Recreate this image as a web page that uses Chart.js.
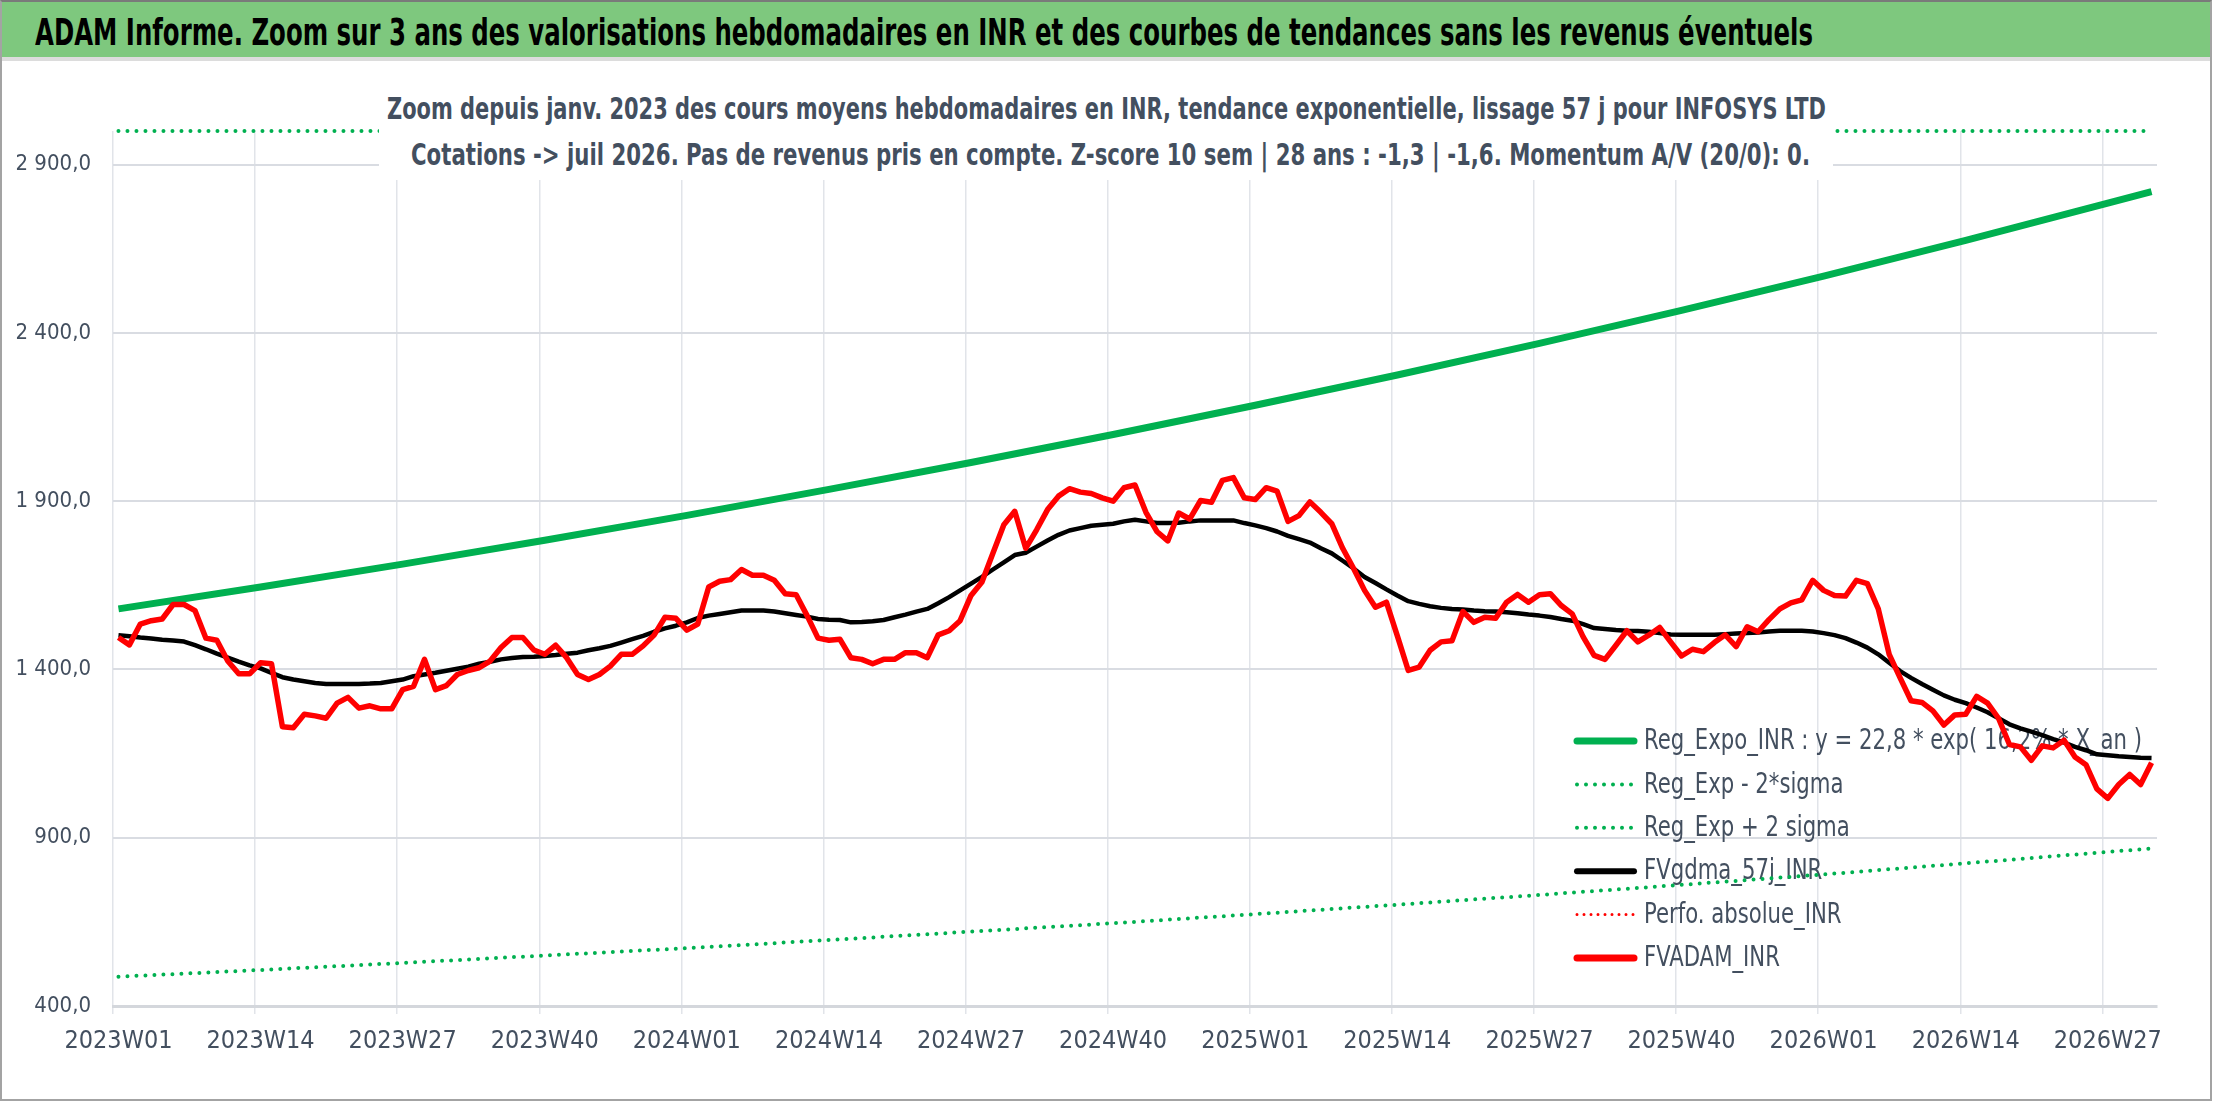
<!DOCTYPE html>
<html>
<head>
<meta charset="utf-8">
<script src="https://cdn.jsdelivr.net/npm/chart.js@4.4.1/dist/chart.umd.min.js"></script>
<style>
  body { margin: 0; background: #fff; }
  #frame { position: relative; width: 2216px; height: 1102px; overflow: hidden; background: #fff; }
  #box { position: absolute; left: 0; top: 0; width: 2208px; height: 1097px; border: 2px solid #a3a3a3; border-top-color: #7a7a7a; }
  #head { position: absolute; left: 2px; top: 2px; width: 2208px; height: 55px; background: #7ec87e; border-bottom: 4px solid #dcdcdc; }
  #title { position: absolute; left: 33px; top: 11px; font: bold 38px 'Liberation Sans Narrow', 'DejaVu Sans Condensed', sans-serif; color: #000; white-space: nowrap; line-height: 1; transform-origin: 0 0; }
  #sub { position: absolute; left: 379px; top: 84px; width: 1454px; height: 96px; background: #fff; }
  .sl { position: absolute; white-space: nowrap; font: bold 31px 'Liberation Sans Narrow', 'DejaVu Sans Condensed', sans-serif; color: #434f5f; line-height: 1; transform-origin: 0 0; }
  canvas { position: absolute; left: 0; top: 0; }
</style>
</head>
<body>
<div id="frame">
  <canvas id="myChart" width="2216" height="1102"></canvas>
  <div id="box"></div>
  <div id="head"><span id="title">ADAM Informe. Zoom sur 3 ans des valorisations hebdomadaires en INR et des courbes de tendances sans les revenus éventuels</span></div>
  <div id="sub"></div>
  <span class="sl" id="sub1" style="left:387px;top:93px">Zoom depuis janv. 2023 des cours moyens hebdomadaires en INR, tendance exponentielle, lissage 57 j pour INFOSYS LTD</span>
  <span class="sl" id="sub2" style="left:411px;top:139px">Cotations -&gt; juil 2026. Pas de revenus pris en compte. Z-score 10 sem | 28 ans : -1,3 | -1,6. Momentum A/V (20/0): 0.</span>
</div>
<script>
// weekly categories 2023W01 .. 2026W31
var years = [2023, 2024, 2025, 2026];
var lastWeek = [52, 52, 52, 31];
var weekLabels = [];
for (var y = 0; y < years.length; y++) {
  for (var w = 1; w <= lastWeek[y]; w++) {
    weekLabels.push(years[y] + "W" + (w < 10 ? "0" + w : w));
  }
}
var xTickLabels = ["2023W01","2023W14","2023W27","2023W40","2024W01","2024W14","2024W27","2024W40",
                   "2025W01","2025W14","2025W27","2025W40","2026W01","2026W14","2026W27"];
var yTicks = [400, 900, 1400, 1900, 2400, 2900];

// FVADAM_INR (red)
var fvadam = [1495,1473,1535,1545,1550,1593,1593,1575,1493,1487,
  1425,1387,1387,1420,1417,1230,1227,1267,1262,1255,
  1300,1317,1285,1292,1283,1283,1340,1350,1430,1340,
  1352,1385,1397,1405,1425,1465,1495,1495,1458,1445,
  1472,1435,1385,1370,1385,1410,1445,1445,1470,1502,
  1555,1552,1517,1535,1645,1662,1667,1697,1680,1680,
  1665,1625,1622,1560,1493,1487,1490,1435,1430,1417,
  1430,1430,1450,1450,1435,1503,1515,1545,1620,1660,
  1745,1830,1870,1760,1815,1875,1915,1937,1927,1923,
  1910,1900,1940,1948,1867,1810,1782,1865,1847,1902,
  1897,1962,1970,1910,1905,1940,1930,1840,1857,1898,
  1867,1833,1760,1700,1635,1585,1600,1500,1397,1407,
  1457,1482,1485,1572,1540,1555,1552,1600,1623,1600,
  1622,1625,1590,1565,1497,1442,1430,1472,1515,1482,
  1502,1525,1482,1440,1460,1453,1480,1503,1468,1527,
  1512,1548,1580,1598,1607,1665,1635,1620,1618,1665,
  1655,1580,1445,1375,1307,1302,1277,1235,1265,1267,
  1320,1300,1255,1177,1170,1130,1173,1167,1190,1140,
  1117,1045,1017,1058,1088,1058,1123];

// FVgdma_57j_INR (black)
var fvgdma = [1502,1499,1495,1492,1488,1486,1483,1472,1460,1447,
  1435,1423,1412,1403,1390,1377,1370,1365,1360,1357,
  1357,1357,1357,1358,1360,1365,1370,1380,1385,1390,
  1396,1402,1408,1417,1423,1430,1434,1437,1438,1440,
  1443,1447,1450,1457,1463,1470,1480,1490,1500,1512,
  1522,1530,1540,1553,1560,1565,1570,1575,1575,1575,
  1572,1567,1562,1557,1550,1548,1547,1540,1541,1543,
  1547,1555,1563,1572,1580,1597,1615,1635,1655,1675,
  1697,1718,1740,1747,1765,1783,1800,1813,1820,1827,
  1830,1833,1840,1845,1840,1835,1835,1836,1840,1843,
  1843,1843,1843,1835,1828,1820,1810,1797,1787,1777,
  1760,1745,1723,1700,1675,1657,1638,1620,1603,1595,
  1588,1583,1580,1578,1575,1573,1572,1570,1567,1563,
  1560,1556,1550,1545,1535,1523,1520,1517,1515,1514,
  1512,1508,1504,1503,1503,1503,1503,1505,1507,1508,
  1510,1513,1515,1515,1515,1513,1508,1502,1493,1480,
  1465,1445,1420,1395,1375,1357,1340,1323,1310,1300,
  1287,1273,1255,1237,1225,1215,1205,1193,1183,1170,
  1160,1148,1145,1142,1140,1138,1137];

// trend lines read at a few weeks (straight segments between them)
var trendWeeks = [0,13,26,39,52,65,78,91,104,117,130,143,156,169,182,186];
var regExpo    = [1580,1645,1713,1784,1858,1935,2015,2098,2185,2275,2369,2467,2569,2675,2786,2820];
var regLow     = [487,507,528,550,572,596,621,646,673,701,730,760,791,824,858,868];
var highWeeks  = [0,186];
var regHigh    = [3000,3000]; // above the axis, shown on its top edge

var FONT = "'Liberation Sans Narrow', 'DejaVu Sans Condensed', sans-serif";
var TXT = "#434f5f";

function pts(weeks, vals) {
  var out = [];
  for (var i = 0; i < weeks.length; i++) out.push({x: weekLabels[weeks[i]], y: vals[i]});
  return out;
}
function frNum(v) {
  var s = v.toFixed(1).split(".");
  return s[0].replace(/\B(?=(\d{3})+(?!\d))/g, " ") + "," + s[1];
}

// legend drawn inside the plot, under the lines
var legendPlugin = {
  id: "innerLegend",
  beforeDatasetsDraw: function(chart) {
    var ctx = chart.ctx;
    var items = chart.data.datasets;
    ctx.save();
    ctx.font = "28px " + FONT;
    var sx = 498 / ctx.measureText(items[0].label).width;
    ctx.textBaseline = "middle";
    ctx.fillStyle = TXT;
    for (var i = 0; i < items.length; i++) {
      var d = items[i];
      var yy = 741 + i * 43.4;
      ctx.beginPath();
      ctx.setLineDash(d.borderDash || []);
      ctx.lineCap = "round";
      ctx.lineWidth = d.legendWidth;
      ctx.strokeStyle = d.borderColor;
      ctx.moveTo(1577, yy);
      ctx.lineTo(1634, yy);
      ctx.stroke();
      ctx.save();
      ctx.translate(1644, yy + 1);
      ctx.scale(sx, 1);
      ctx.fillText(d.label, 0, 0);
      ctx.restore();
    }
    ctx.restore();
  }
};

Chart.defaults.font.family = FONT;

new Chart("myChart", {
  type: "line",
  data: {
    labels: weekLabels,
    datasets: [{
      label: "Reg_Expo_INR : y = 22,8 * exp( 16,2% * X_an )",
      data: pts(trendWeeks, regExpo),
      borderColor: "#00b050", borderWidth: 7, legendWidth: 7, order: 4
    }, {
      label: "Reg_Exp - 2*sigma",
      data: pts(trendWeeks, regLow),
      borderColor: "#00b050", borderWidth: 4, legendWidth: 4, borderDash: [0, 9], borderCapStyle: "round", order: 5
    }, {
      label: "Reg_Exp + 2 sigma",
      data: pts(highWeeks, regHigh),
      borderColor: "#00b050", borderWidth: 4, legendWidth: 4, borderDash: [0, 9], borderCapStyle: "round", order: 6, clip: 6
    }, {
      label: "FVgdma_57j_INR",
      data: fvgdma,
      borderColor: "#000000", borderWidth: 4.5, legendWidth: 6, order: 2
    }, {
      label: "Perfo. absolue_INR",
      data: [],
      borderColor: "#ff0000", borderWidth: 3, legendWidth: 3, borderDash: [0, 7], borderCapStyle: "round", order: 3
    }, {
      label: "FVADAM_INR",
      data: fvadam,
      borderColor: "#ff0000", borderWidth: 5.5, legendWidth: 7, order: 1
    }]
  },
  options: {
    responsive: false,
    animation: false,
    devicePixelRatio: 1,
    layout: { padding: { top: 131, right: 59, left: 0, bottom: 0 } },
    elements: { point: { radius: 0 }, line: { tension: 0, borderJoinStyle: "round" } },
    plugins: { legend: { display: false }, title: { display: false }, tooltip: { enabled: false } },
    scales: {
      x: {
        type: "category",
        offset: true,
        afterFit: function(s) { s.height = 96; },
        grid: {
          offset: true,
          drawTicks: true,
          tickLength: 8,
          lineWidth: 1.5,
          color: function(c) { return (c.index % 13 === 0) ? "#e1e4e9" : "rgba(0,0,0,0)"; },
          tickColor: function(c) { return (c.index % 13 === 0) ? "#e1e4e9" : "rgba(0,0,0,0)"; }
        },
        border: { display: true, color: "#d4d7dc", width: 3 },
        ticks: {
          autoSkip: false, maxRotation: 0, padding: 12,
          color: TXT, font: { size: 25 },
          callback: function(v) {
            var l = this.getLabelForValue(v);
            return xTickLabels.indexOf(l) >= 0 ? l : "";
          }
        }
      },
      y: {
        min: 400, max: 3000,
        afterFit: function(s) { s.width = 113; },
        afterBuildTicks: function(s) { s.ticks = yTicks.map(function(v) { return {value: v}; }); },
        grid: { drawTicks: false, color: "#d9dce2", lineWidth: 2 },
        border: { display: false },
        ticks: { padding: 22, color: TXT, font: { size: 22 }, callback: function(v) { return frNum(v); } }
      }
    }
  },
  plugins: [legendPlugin]
});

// squeeze the html titles to the reference widths
function fit(id, w) {
  var el = document.getElementById(id);
  var r = el.getBoundingClientRect().width;
  el.style.transform = "scaleX(" + (w / r) + ")";
}
fit("title", 1778);
fit("sub1", 1439);
fit("sub2", 1399);
</script>
</body>
</html>
